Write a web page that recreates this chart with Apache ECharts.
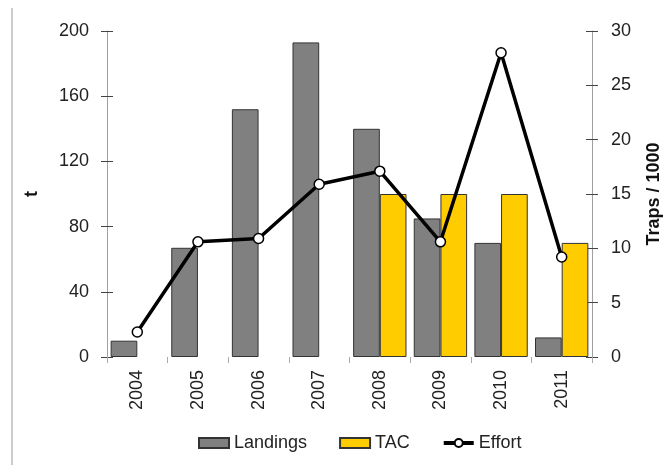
<!DOCTYPE html>
<html>
<head>
<meta charset="utf-8">
<script src="https://cdn.jsdelivr.net/npm/echarts@6/dist/echarts.min.js"></script>
<style>
    html, body { margin: 0; padding: 0; background: #fff; }
    #chart { width: 671px; height: 465px; }
</style>
</head>
<body>
<div id="chart"></div>
<script>
var years = ['2004', '2005', '2006', '2007', '2008', '2009', '2010', '2011'];
var landings = [10, 67, 152, 193, 140, 85, 70, 12];
var tac = [null, null, null, null, 100, 100, 100, 70];
var effort = [2.3, 10.6, 10.9, 15.9, 17.1, 10.6, 28.0, 9.2];
var leftTicks = [0, 200, 40];   // min, max, step
var rightTicks = [0, 30, 5];

var font = "'Liberation Sans', Arial, sans-serif";
var chart = echarts.init(document.getElementById('chart'));

// the reference ticks cross the axis line, so a second label-less axis
// draws the inner half of each tick
function innerAxis(pos, t) {
    return {
        type: 'value', position: pos, min: t[0], max: t[1], interval: t[2],
        axisLine: { show: false },
        axisLabel: { show: false },
        splitLine: { show: false },
        axisTick: { show: true, inside: true, length: 6, lineStyle: { color: '#444' } }
    };
}

var option = {
    animation: false,
    backgroundColor: '#fff',
    textStyle: { fontFamily: font },
    graphic: [{
        type: 'line',
        shape: { x1: 12, y1: 8, x2: 12, y2: 465 },
        style: { stroke: '#999', lineWidth: 1 }
    }],
    grid: { left: 107, right: 73, top: 31, bottom: 108 },
    legend: {
        left: 198,
        top: 434,
        padding: 0,
        itemWidth: 30,
        itemHeight: 10,
        itemGap: 32,
        textStyle: { fontSize: 18, color: '#222', fontFamily: font },
        data: [
            { name: 'Landings', icon: 'rect' },
            { name: 'TAC', icon: 'rect' },
            { name: 'Effort', lineStyle: { width: 4, color: '#000' } }
        ]
    },
    xAxis: {
        type: 'category',
        data: years,
        axisLine: { show: false },
        axisTick: { show: true, length: 6, lineStyle: { color: '#aaa' } },
        axisLabel: { rotate: 90, margin: 13, fontSize: 18, color: '#222', fontFamily: font }
    },
    yAxis: [{
        type: 'value', position: 'left',
        min: leftTicks[0], max: leftTicks[1], interval: leftTicks[2],
        name: 't', nameLocation: 'middle', nameRotate: 90, nameGap: 66,
        nameTextStyle: { fontSize: 18, fontWeight: 'bold', color: '#111', fontFamily: font },
        axisLine: { show: true, lineStyle: { color: '#a0a0a0' } },
        axisTick: { show: true, length: 6, lineStyle: { color: '#444' } },
        axisLabel: { margin: 18, fontSize: 18, color: '#222', fontFamily: font },
        splitLine: { show: false }
    }, {
        type: 'value', position: 'right',
        min: rightTicks[0], max: rightTicks[1], interval: rightTicks[2],
        name: 'Traps / 1000', nameLocation: 'middle', nameRotate: 90, nameGap: 53,
        nameTextStyle: { fontSize: 18, fontWeight: 'bold', color: '#111', fontFamily: font },
        axisLine: { show: true, lineStyle: { color: '#a0a0a0' } },
        axisTick: { show: true, length: 6, lineStyle: { color: '#444' } },
        axisLabel: { margin: 19, fontSize: 18, color: '#222', fontFamily: font },
        splitLine: { show: false }
    }, innerAxis('left', leftTicks), innerAxis('right', rightTicks)],
    series: [{
        name: 'Landings',
        type: 'bar',
        yAxisIndex: 0,
        barGap: '0%',
        barCategoryGap: '12%',
        itemStyle: { color: '#808080', borderColor: '#333', borderWidth: 1 },
        data: landings
    }, {
        name: 'TAC',
        type: 'bar',
        yAxisIndex: 0,
        itemStyle: { color: '#ffcc00', borderColor: '#333', borderWidth: 1 },
        data: tac
    }, {
        name: 'Effort',
        type: 'line',
        yAxisIndex: 1,
        symbol: 'circle',
        symbolSize: 10,
        lineStyle: { color: '#000', width: 3.5 },
        itemStyle: { color: '#fff', borderColor: '#000', borderWidth: 1.5 },
        z: 5,
        data: effort
    }]
};
chart.setOption(option);
</script>
</body>
</html>
